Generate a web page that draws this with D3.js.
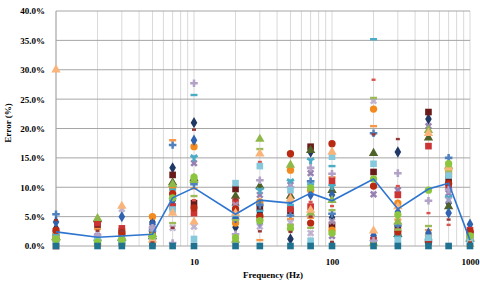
<!DOCTYPE html>
<html>
<head>
<meta charset="utf-8">
<script src="https://cdn.jsdelivr.net/npm/d3@7"></script>
<style>
  body { margin: 0; background: #fff; }
  text { font-family: "Liberation Serif", "Times New Roman", serif; font-weight: bold; }
</style>
</head>
<body>
<div id="viz"></div>
<script>
// frequencies (Hz) of the measurement columns
const freqs = [1, 2, 3, 5, 7, 10, 20, 30, 50, 70, 100, 200, 300, 500, 700, 1000];
const yTicks = [0, 5, 10, 15, 20, 25, 30, 35, 40];
const xTicks = [10, 100, 1000];

// error (%) of each series at each frequency
const sA = [3.0, 0.5, 1.8, 4.1, 13.3, 21.0, 3.2, 5.6, 1.2, 16.0, 4.8, 1.4, 16.0, 21.6, 7.3, 1.8];
const sB = [2.0, 3.6, 2.5, 2.8, 12.1, 7.3, 9.7, 6.5, 6.0, 16.9, 3.6, 12.6, 3.0, 22.8, 11.2, 2.0];
const sC = [1.5, 4.5, 1.3, 1.6, 10.8, 11.5, 8.5, 10.2, 8.5, 16.3, 9.5, 15.8, 2.0, 18.4, 6.7, 1.2];
const sD = [1.2, 1.7, 1.0, 3.3, 7.5, 14.1, 5.0, 8.7, 10.4, 12.4, 1.7, 8.8, 9.5, 20.4, 9.0, 1.5];
const sE = [0.8, 0.8, 0.8, 1.4, 7.9, 15.1, 6.8, 9.5, 11.0, 14.6, 10.2, 0.8, 1.8, 1.0, 8.2, 1.0];
const sF = [1.8, 0.2, 0.3, 5.0, 9.9, 16.9, 3.9, 7.5, 12.9, 9.5, 2.7, 23.3, 7.3, 1.8, 12.4, 2.2];
const sG = [5.4, 1.0, 1.9, 2.6, 17.2, 10.5, 4.6, 7.0, 5.2, 11.0, 5.5, 19.2, 3.5, 0.8, 15.0, 2.4];
const sH = [1.0, 2.9, 2.0, 1.2, 18.0, 9.8, 6.0, 1.0, 4.6, 4.8, 11.7, 20.4, 4.5, 2.7, 12.0, 1.6];
const sI = [2.2, 1.2, 2.8, 2.2, 9.3, 7.8, 5.8, 14.3, 9.0, 7.5, 6.8, 28.3, 10.2, 5.6, 3.6, 0.9];
const sJ = [4.1, 0.6, 5.0, 3.8, 7.7, 18.0, 4.8, 3.9, 7.7, 8.7, 8.7, 1.8, 5.8, 2.2, 5.6, 3.7];
const sK = [0.0, 3.9, 3.0, 0.5, 6.7, 5.6, 7.5, 4.8, 6.3, 6.7, 11.1, 1.0, 8.7, 17.0, 10.2, 2.7];
const sL = [1.4, 4.7, 1.5, 2.0, 10.5, 11.2, 1.0, 18.2, 13.8, 5.6, 7.8, 0.5, 4.1, 19.7, 13.6, 1.4];
const sM = [0.6, 1.5, 6.3, 3.0, 3.1, 3.3, 7.0, 3.3, 4.0, 2.2, 4.2, 24.7, 0.5, 0.5, 7.8, 1.1];
const sN = [1.9, 1.0, 0.6, 1.5, 9.6, 25.7, 5.2, 6.0, 7.0, 10.5, 13.6, 35.2, 1.5, 1.2, 11.8, 0.8];
const sO = [2.7, 0.4, 2.3, 1.8, 8.9, 6.5, 6.3, 5.1, 15.7, 3.9, 17.4, 10.2, 2.4, 0.6, 10.6, 2.5];
const sP = [0.9, 1.9, 1.2, 3.1, 0.5, 27.7, 2.0, 11.2, 10.0, 13.3, 12.3, 0.9, 12.4, 7.7, 9.6, 1.3];
const sQ = [1.6, 0.8, 0.9, 1.3, 3.9, 8.5, 4.4, 16.5, 3.6, 3.1, 6.1, 25.2, 2.8, 3.4, 12.8, 1.9];
const sR = [0.7, 0.9, 0.8, 0.9, 6.2, 1.2, 10.7, 13.6, 9.5, 0.9, 15.2, 14.0, 1.0, 1.4, 12.0, 0.7];
const sS = [30.0, 0.3, 6.8, 1.0, 5.6, 4.1, 5.6, 15.7, 8.0, 6.1, 16.0, 2.6, 6.7, 19.2, 13.3, 0.3];
const sT = [1.1, 0.7, 1.1, 1.7, 8.2, 11.7, 1.4, 4.3, 3.0, 9.9, 2.2, 11.4, 5.3, 9.5, 14.0, 1.7];
const sV = [4.4, 2.6, 2.6, 0.6, 3.1, 19.8, 8.0, 2.5, 2.4, 5.0, 0.7, 19.0, 18.2, 0.3, 4.5, 0.6];
const sU = [0, 0, 0, 0, 0, 0, 0, 0, 0, 0, 0, 0, 0, 0, 0, 0];
// average error across series
const mean = [2.4, 1.5, 1.7, 2.0, 8.2, 9.9, 5.4, 7.8, 7.3, 9.0, 7.7, 11.4, 6.3, 9.7, 10.7, 1.0];

const series = [
  { values: sA, shape: 'diamond', color: '#1f3864' },
  { values: sB, shape: 'square', color: '#6b1a1a' },
  { values: sC, shape: 'triangle', color: '#4f6228' },
  { values: sD, shape: 'x', color: '#8064a2' },
  { values: sE, shape: 'star', color: '#4bacc6' },
  { values: sF, shape: 'circle', color: '#f38a1e' },
  { values: sG, shape: 'plus', color: '#4f81bd' },
  { values: sH, shape: 'dash', color: '#f79646' },
  { values: sI, shape: 'smalldash', color: '#d9534f' },
  { values: sJ, shape: 'diamond', color: '#2f62b0' },
  { values: sK, shape: 'square', color: '#cc3333' },
  { values: sL, shape: 'triangle', color: '#8fb84a' },
  { values: sM, shape: 'x', color: '#b3a2c7' },
  { values: sN, shape: 'dash', color: '#4bacc6' },
  { values: sO, shape: 'circle', color: '#b82a12' },
  { values: sP, shape: 'plus', color: '#b3a2c7' },
  { values: sQ, shape: 'dash', color: '#9bbb59' },
  { values: sR, shape: 'square', color: '#86c8dc' },
  { values: sS, shape: 'triangle', color: '#fab47a' },
  { values: sT, shape: 'circle', color: '#8cc63f' },
  { values: sV, shape: 'smalldash', color: '#953735' },
  { values: sU, shape: 'square', color: '#1f7391' }
];

const W = 480, H = 285;
const margin = { top: 11, right: 10, bottom: 39, left: 56 };

const x = d3.scaleLog().domain([1, 1000]).range([margin.left, W - margin.right]);
const y = d3.scaleLinear().domain([0, 40]).range([H - margin.bottom, margin.top]);

const svg = d3.select('#viz').append('svg')
  .attr('width', W)
  .attr('height', H);

// vertical grid (every 1..9 of each decade)
const vgrid = d3.range(0, 3).flatMap(e => d3.range(1, 10).map(k => k * Math.pow(10, e))).concat([1000]);
svg.append('g').selectAll('line').data(vgrid).enter().append('line')
  .attr('x1', d => x(d)).attr('x2', d => x(d))
  .attr('y1', y(40)).attr('y2', y(0))
  .attr('stroke', '#d9d9d9').attr('stroke-width', 1);

// horizontal grid
svg.append('g').selectAll('line').data(yTicks).enter().append('line')
  .attr('x1', x(1)).attr('x2', x(1000))
  .attr('y1', d => y(d)).attr('y2', d => y(d))
  .attr('stroke', '#a6a6a6').attr('stroke-width', 1);

svg.append('line')
  .attr('x1', x(1)).attr('x2', x(1))
  .attr('y1', y(40)).attr('y2', y(0))
  .attr('stroke', '#a6a6a6');

// axes
const yAxis = d3.axisLeft(y).tickValues(yTicks).tickSize(0).tickPadding(11)
  .tickFormat(d => d.toFixed(1) + '%');
svg.append('g')
  .attr('transform', 'translate(' + margin.left + ',0)')
  .call(yAxis)
  .call(g => g.select('.domain').remove())
  .selectAll('text')
  .style('font-family', '"Liberation Serif", serif')
  .style('font-weight', 'bold')
  .style('font-size', '9px')
  .attr('fill', '#000');

const xAxis = d3.axisBottom(x).tickValues(xTicks).tickSize(0).tickPadding(13)
  .tickFormat(d3.format('d'));
svg.append('g')
  .attr('transform', 'translate(0,' + y(0) + ')')
  .call(xAxis)
  .call(g => g.select('.domain').remove())
  .selectAll('text')
  .style('font-family', '"Liberation Serif", serif')
  .style('font-weight', 'bold')
  .style('font-size', '9px')
  .attr('fill', '#000');

svg.append('text')
  .attr('x', 273).attr('y', 278)
  .attr('text-anchor', 'middle')
  .style('font-size', '9px')
  .text('Frequency (Hz)');

svg.append('text')
  .attr('transform', 'translate(11,123) rotate(-90)')
  .attr('text-anchor', 'middle')
  .style('font-size', '9px')
  .text('Error (%)');

// markers
const symbolFor = {
  diamond: d3.symbol(d3.symbolDiamond, 38),
  square: d3.symbol(d3.symbolSquare, 44),
  triangle: d3.symbol(d3.symbolTriangle, 38),
  circle: d3.symbol(d3.symbolCircle, 42),
  plus: d3.symbol(d3.symbolCross, 32),
  x: d3.symbol(d3.symbolCross, 34),
  star: d3.symbol(d3.symbolWye, 32)
};

const groups = svg.append('g').selectAll('g').data(series).enter().append('g');

groups.each(function (s) {
  const g = d3.select(this);
  const pts = s.values.map((v, i) => ({ f: freqs[i], v: v })).filter(p => p.v != null);
  if (s.shape === 'dash' || s.shape === 'smalldash') {
    const w = s.shape === 'dash' ? 7 : 4;
    g.selectAll('rect').data(pts).enter().append('rect')
      .attr('x', p => x(p.f) - w / 2)
      .attr('y', p => y(p.v) - 1.2)
      .attr('width', w)
      .attr('height', 2.4)
      .attr('fill', s.color);
  } else {
    g.selectAll('path').data(pts).enter().append('path')
      .attr('d', symbolFor[s.shape])
      .attr('transform', p => 'translate(' + x(p.f) + ',' + y(p.v) + ')' + (s.shape === 'x' ? ' rotate(45)' : ''))
      .attr('fill', s.color)
      .attr('fill-opacity', s.shape === 'x' ? 0.8 : 1);
  }
});

// average line
const line = d3.line()
  .x((d, i) => x(freqs[i]))
  .y(d => y(d));
svg.append('path')
  .datum(mean)
  .attr('d', line)
  .attr('fill', 'none')
  .attr('stroke', '#2e75d0')
  .attr('stroke-width', 1.6);
</script>
</body>
</html>
